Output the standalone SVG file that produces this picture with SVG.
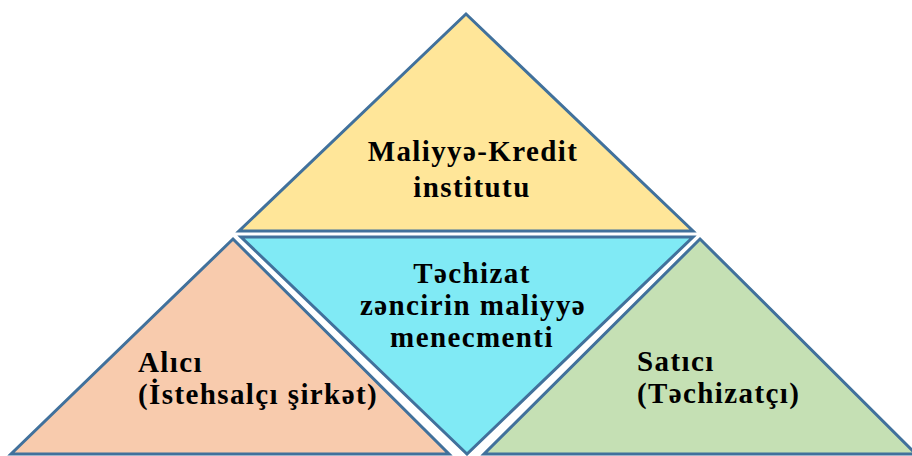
<svg xmlns="http://www.w3.org/2000/svg" width="912" height="456" viewBox="0 0 912 456">
<style>
.tri{stroke:#41719C;stroke-width:3;stroke-linejoin:miter}
.t{font-family:"Liberation Serif","Times New Roman",serif;font-weight:bold;font-size:29px;letter-spacing:1.4px;fill:#000}
.c{text-anchor:middle}
</style>
<rect width="912" height="456" fill="#fff"/>
<g id="top">
<polygon class="tri" points="466,14 693,231 239,231" fill="#FFE699"/>
<text class="t c" x="473" y="161">Maliyyə-Kredit</text>
<text class="t c" x="472" y="197">institutu</text>
</g>
<g id="middle">
<polygon class="tri" points="241,237 693,237 467,454" fill="#80EAF5"/>
<text class="t c" x="472" y="283">Təchizat</text>
<text class="t c" x="473" y="315">zəncirin maliyyə</text>
<text class="t c" x="472" y="347">menecmenti</text>
</g>
<g id="left">
<polygon class="tri" points="233,239 449,454 11,454" fill="#F8CBAD"/>
<text class="t" x="138" y="372">Alıcı</text>
<text class="t" x="138" y="404">(İstehsalçı şirkət)</text>
</g>
<g id="right">
<polygon class="tri" points="700,239 916,454 484,454" fill="#C5E0B4"/>
<text class="t" x="637" y="371">Satıcı</text>
<text class="t" x="637" y="403">(Təchizatçı)</text>
</g>
<g id="connectors"></g>
</svg>
